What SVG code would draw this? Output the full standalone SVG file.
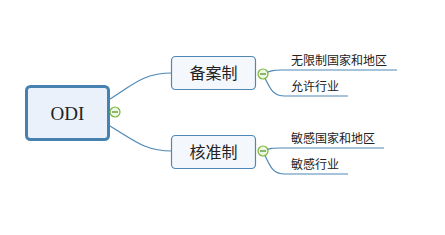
<svg xmlns="http://www.w3.org/2000/svg" width="445" height="235" viewBox="0 0 445 235">
<style>
.conn{fill:none;stroke:#4f88b5;stroke-width:1.2}
.main{fill:#eaf1fa;stroke:#4781b0;stroke-width:3}
.sub{fill:#f4f7fc;stroke:#4f88b5;stroke-width:1.2}
.tog{fill:#eef7e4;stroke:#77b63a;stroke-width:1.2}
.togl{stroke:#4a8a1c;stroke-width:1.2}
.t1{font-family:"Liberation Serif",serif;font-size:19px;fill:#222;text-anchor:middle}
.t2{font-family:"Noto Sans CJK SC",sans-serif;font-size:16px;fill:#222;text-anchor:middle}
.t3{font-family:"Noto Sans CJK SC",sans-serif;font-size:12px;fill:#222}
</style>
<rect width="445" height="235" fill="#ffffff"/>
<g id="connectors">
<path class="conn" d="M110,99 C135,83 145,73 172,73"/>
<path class="conn" d="M110,126 C135,141 145,151 172,151"/>
<path class="conn" d="M263,74 C270,71 272,70 282,70 L397,70"/>
<path class="conn" d="M263,74 C270,88 272,96 285,96 L348,96"/>
<path class="conn" d="M263,151 C270,148 272,148 282,148 L384,148"/>
<path class="conn" d="M263,151 C270,166 272,174 285,174 L348,174"/>
</g>
<g id="ODI">
<rect class="main" x="26.5" y="86.5" width="82" height="53" rx="4"/>
<text class="t1" x="67.5" y="120">ODI</text>
</g>
<g id="toggle-ODI">
<circle class="tog" cx="115" cy="112" r="5"/>
<line class="togl" x1="112" y1="112" x2="118" y2="112"/>
</g>
<g id="beian">
<rect class="sub" x="171.5" y="56.5" width="84" height="33" rx="4"/>
<text class="t2" x="213.5" y="79">备案制</text>
</g>
<g id="toggle-beian">
<circle class="tog" cx="263" cy="74" r="5"/>
<line class="togl" x1="260" y1="74" x2="266" y2="74"/>
</g>
<g id="hezhun">
<rect class="sub" x="171.5" y="135.5" width="84" height="33" rx="4"/>
<text class="t2" x="213.5" y="158">核准制</text>
</g>
<g id="toggle-hezhun">
<circle class="tog" cx="263" cy="151" r="5"/>
<line class="togl" x1="260" y1="151" x2="266" y2="151"/>
</g>
<g id="leaf1"><text class="t3" x="291" y="65">无限制国家和地区</text></g>
<g id="leaf2"><text class="t3" x="291" y="91">允许行业</text></g>
<g id="leaf3"><text class="t3" x="291" y="143">敏感国家和地区</text></g>
<g id="leaf4"><text class="t3" x="291" y="169">敏感行业</text></g>
</svg>
